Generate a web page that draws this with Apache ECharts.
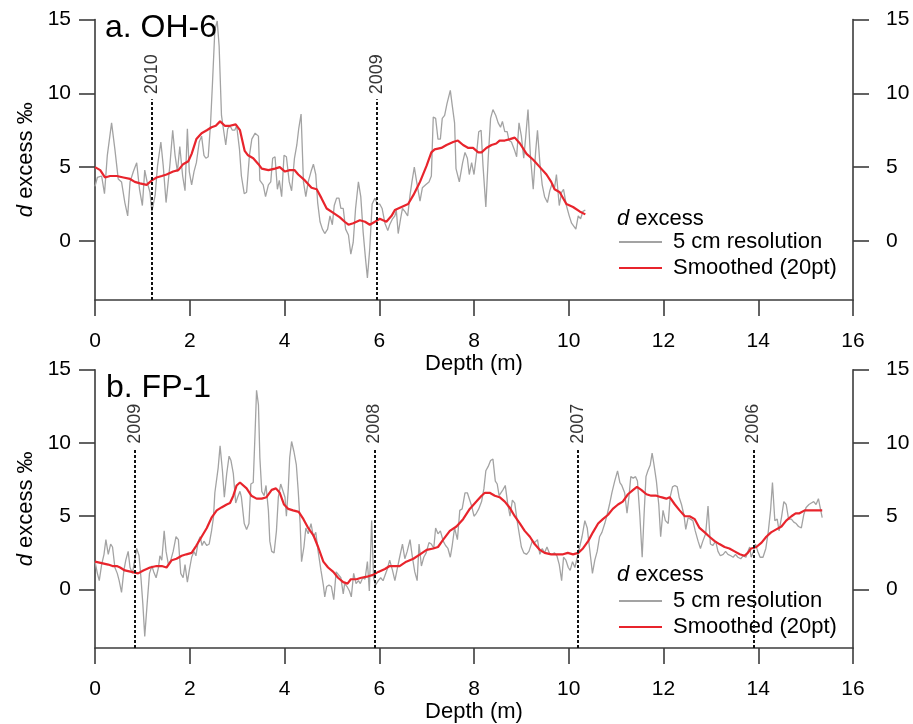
<!DOCTYPE html>
<html>
<head>
<meta charset="utf-8">
<script src="https://cdn.jsdelivr.net/npm/echarts@6/dist/echarts.min.js"></script>
<style>
  html, body { margin: 0; padding: 0; background: #fff; }
  #chart { width: 913px; height: 724px; }
</style>
</head>
<body>
<div id="chart"></div>
<script>
// d excess vs depth, [depth (m), d excess (‰)]
// Core OH-6: 5 cm resolution samples
const rawA = [
  [0.00,3.7],[0.05,4.3],[0.14,4.4],[0.20,3.2],[0.26,5.8],[0.35,8.0],[0.42,6.2],[0.49,4.2],[0.56,4.0],[0.63,2.6],
  [0.69,1.7],[0.74,4.0],[0.81,4.7],[0.88,5.3],[0.94,3.5],[1.00,2.4],[1.05,4.8],[1.10,4.0],[1.16,3.3],[1.20,2.0],
  [1.27,3.1],[1.32,5.1],[1.39,6.7],[1.44,5.1],[1.50,2.6],[1.53,2.6],[1.58,5.1],[1.64,7.5],[1.69,5.8],[1.74,4.7],
  [1.79,6.4],[1.85,4.4],[1.90,3.4],[1.95,7.6],[1.99,4.7],[2.04,3.8],[2.09,4.7],[2.14,5.3],[2.20,6.7],[2.25,7.1],
  [2.30,5.8],[2.34,5.6],[2.39,5.7],[2.44,8.0],[2.48,10.7],[2.53,14.3],[2.58,14.9],[2.62,13.2],[2.67,8.5],[2.71,7.6],
  [2.76,6.5],[2.80,7.6],[2.85,7.8],[2.90,7.5],[2.95,7.5],[2.99,7.8],[3.05,6.2],[3.09,4.4],[3.15,3.2],[3.20,3.3],
  [3.26,5.8],[3.31,6.9],[3.38,7.3],[3.45,7.1],[3.48,4.1],[3.55,3.8],[3.60,3.0],[3.66,3.8],[3.71,4.0],[3.75,5.6],
  [3.80,5.7],[3.85,3.5],[3.89,4.1],[3.94,3.0],[3.99,5.8],[4.04,5.7],[4.10,4.0],[4.15,3.4],[4.21,5.6],[4.26,6.5],
  [4.30,7.6],[4.35,8.6],[4.40,4.0],[4.45,3.0],[4.50,4.0],[4.56,4.7],[4.61,5.2],[4.66,4.5],[4.70,2.6],[4.75,1.3],
  [4.80,0.8],[4.85,0.5],[4.91,0.8],[4.96,1.7],[5.01,1.1],[5.05,2.4],[5.10,2.9],[5.15,2.9],[5.19,2.2],[5.24,2.2],
  [5.29,0.8],[5.35,0.4],[5.40,-0.9],[5.45,-0.1],[5.50,2.2],[5.56,4.0],[5.61,3.0],[5.66,0.6],[5.71,-1.2],[5.75,-2.5],
  [5.80,-0.5],[5.85,2.5],[5.91,2.9],[5.96,2.5],[6.01,2.5],[6.06,2.2],[6.12,1.2],[6.18,0.7],[6.22,1.1],[6.28,1.5],
  [6.33,1.7],[6.36,2.1],[6.40,0.5],[6.45,1.5],[6.49,2.2],[6.54,2.0],[6.60,1.7],[6.65,3.1],[6.69,4.0],[6.74,5.0],
  [6.79,4.0],[6.86,2.7],[6.91,3.6],[6.98,3.8],[7.05,4.0],[7.10,4.4],[7.14,8.4],[7.19,8.3],[7.24,6.9],[7.29,6.9],
  [7.33,8.3],[7.38,8.5],[7.43,9.3],[7.50,10.2],[7.54,9.2],[7.59,8.0],[7.62,4.9],[7.69,4.0],[7.76,5.3],[7.81,6.0],
  [7.86,5.6],[7.90,4.5],[7.95,5.3],[8.00,4.5],[8.05,5.8],[8.10,7.4],[8.15,7.5],[8.19,5.1],[8.25,2.3],[8.30,5.6],
  [8.35,8.3],[8.40,8.9],[8.46,8.5],[8.51,8.0],[8.56,7.7],[8.60,8.1],[8.65,7.4],[8.70,7.4],[8.74,6.8],[8.79,6.7],
  [8.85,6.2],[8.90,5.7],[8.95,8.0],[9.00,7.1],[9.05,5.6],[9.09,7.0],[9.14,8.9],[9.19,5.8],[9.25,3.5],[9.30,6.0],
  [9.34,7.5],[9.39,5.3],[9.44,3.8],[9.49,3.0],[9.55,2.6],[9.60,3.4],[9.65,3.9],[9.70,3.6],[9.74,4.5],[9.80,2.4],
  [9.85,3.3],[9.89,3.5],[9.95,2.4],[10.01,1.7],[10.06,1.2],[10.10,1.3],[10.15,0.8],[10.20,1.7],[10.25,1.5],[10.30,2.0],
  [10.35,2.1]
];
// Core OH-6: 20-point running mean
const smoothA = [
  [0.00,5.0],[0.11,4.8],[0.21,4.3],[0.32,4.4],[0.46,4.4],[0.60,4.3],[0.74,4.2],[0.84,4.0],[0.95,3.9],[1.09,3.8],
  [1.20,4.1],[1.30,4.3],[1.41,4.4],[1.51,4.5],[1.65,4.7],[1.76,4.8],[1.86,5.2],[1.97,5.4],[2.04,5.9],[2.14,6.9],
  [2.25,7.3],[2.36,7.5],[2.46,7.7],[2.55,7.8],[2.64,8.1],[2.74,7.8],[2.85,7.8],[2.97,7.9],[3.06,7.5],[3.16,6.1],
  [3.23,5.8],[3.34,5.6],[3.45,5.2],[3.52,4.9],[3.66,4.8],[3.80,4.9],[3.90,5.0],[4.01,4.7],[4.11,4.8],[4.21,4.8],
  [4.29,4.5],[4.43,4.1],[4.57,3.6],[4.68,3.5],[4.78,2.9],[4.89,2.2],[5.03,1.9],[5.17,1.6],[5.27,1.3],[5.35,1.1],
  [5.45,1.2],[5.59,1.4],[5.70,1.3],[5.80,1.1],[5.91,1.3],[6.01,1.5],[6.15,1.3],[6.26,1.7],[6.33,2.1],[6.47,2.3],
  [6.61,2.5],[6.72,3.1],[6.83,3.8],[6.86,4.0],[7.00,5.1],[7.10,6.0],[7.17,6.2],[7.31,6.3],[7.42,6.5],[7.56,6.7],
  [7.66,6.8],[7.77,6.5],[7.88,6.3],[7.98,6.3],[8.09,6.0],[8.16,6.0],[8.26,6.3],[8.37,6.5],[8.47,6.6],[8.54,6.8],
  [8.65,6.8],[8.76,6.9],[8.86,7.0],[8.97,6.6],[9.11,5.9],[9.25,5.5],[9.39,5.0],[9.53,4.5],[9.63,4.0],[9.70,3.5],
  [9.81,3.3],[9.95,2.5],[10.09,2.3],[10.23,2.0],[10.35,1.8]
];
// Core FP-1: 5 cm resolution samples
const rawB = [
  [0.00,1.9],[0.05,1.1],[0.09,0.6],[0.14,1.7],[0.19,2.4],[0.23,3.4],[0.28,2.4],[0.33,3.1],[0.37,2.9],[0.42,1.5],
  [0.47,1.1],[0.51,0.6],[0.56,-0.2],[0.61,1.3],[0.65,2.0],[0.70,2.6],[0.74,1.5],[0.79,1.1],[0.83,1.2],[0.88,2.8],
  [0.93,2.3],[0.97,0.8],[1.01,-1.0],[1.05,-3.2],[1.10,-1.0],[1.15,1.1],[1.20,1.6],[1.24,1.2],[1.29,0.8],[1.34,1.5],
  [1.37,2.3],[1.41,2.0],[1.46,4.0],[1.50,2.6],[1.55,1.7],[1.60,2.0],[1.65,2.6],[1.71,3.6],[1.76,3.4],[1.81,1.1],
  [1.86,0.8],[1.90,1.7],[1.95,0.5],[1.99,1.3],[2.04,2.2],[2.09,2.6],[2.13,2.3],[2.18,3.3],[2.22,3.6],[2.26,3.0],
  [2.30,3.3],[2.36,3.0],[2.41,3.1],[2.46,4.0],[2.50,4.9],[2.53,6.6],[2.57,6.6],[2.60,8.3],[2.64,9.8],[2.69,8.1],
  [2.73,6.3],[2.78,7.9],[2.83,9.1],[2.87,8.8],[2.92,7.9],[2.97,5.9],[3.01,6.3],[3.06,6.7],[3.09,6.3],[3.15,4.5],
  [3.20,4.1],[3.25,4.5],[3.29,7.2],[3.34,7.3],[3.38,10.8],[3.41,13.6],[3.45,12.6],[3.48,9.0],[3.52,6.7],[3.57,6.4],
  [3.61,7.1],[3.66,5.4],[3.69,3.3],[3.73,2.6],[3.78,2.5],[3.83,4.0],[3.87,6.3],[3.92,7.2],[3.96,7.1],[4.01,6.3],
  [4.04,5.0],[4.08,6.9],[4.11,9.0],[4.15,10.1],[4.20,9.4],[4.25,8.5],[4.29,6.7],[4.33,4.5],[4.36,1.9],[4.41,2.9],
  [4.45,4.2],[4.50,3.8],[4.56,4.5],[4.61,3.6],[4.66,3.9],[4.71,2.6],[4.77,1.3],[4.82,0.3],[4.85,-0.5],[4.89,0.2],
  [4.94,0.3],[4.99,0.2],[5.04,-0.7],[5.09,1.2],[5.13,1.3],[5.19,0.8],[5.24,-0.3],[5.27,0.4],[5.32,0.2],[5.37,-0.1],
  [5.41,-0.5],[5.46,1.1],[5.51,0.4],[5.56,0.6],[5.60,0.4],[5.65,0.8],[5.70,0.7],[5.75,1.9],[5.79,-0.1],[5.84,4.7],
  [5.88,0.8],[5.92,0.3],[5.98,0.6],[6.03,0.8],[6.08,0.6],[6.12,0.6],[6.17,1.4],[6.22,2.0],[6.28,1.3],[6.33,0.6],
  [6.38,1.4],[6.43,2.2],[6.49,3.1],[6.54,2.1],[6.59,2.6],[6.65,3.4],[6.70,2.2],[6.75,1.2],[6.80,0.6],[6.84,3.1],
  [6.89,1.6],[6.94,2.2],[6.99,2.5],[7.05,3.2],[7.10,3.1],[7.15,2.8],[7.19,4.2],[7.24,3.8],[7.29,4.0],[7.35,3.3],
  [7.40,3.0],[7.45,2.8],[7.50,2.2],[7.54,3.0],[7.59,4.2],[7.65,3.4],[7.70,5.4],[7.75,5.5],[7.81,6.6],[7.86,6.6],
  [7.90,6.5],[7.95,5.7],[8.00,5.0],[8.05,5.2],[8.10,5.5],[8.16,6.0],[8.21,6.9],[8.25,8.1],[8.30,8.4],[8.35,8.8],
  [8.40,8.9],[8.45,7.4],[8.49,7.2],[8.53,6.4],[8.57,6.3],[8.61,6.8],[8.66,7.1],[8.71,5.9],[8.76,5.0],[8.81,6.1],
  [8.86,5.9],[8.91,4.7],[8.95,3.9],[9.00,2.9],[9.05,2.5],[9.11,2.4],[9.16,2.6],[9.23,3.3],[9.28,3.2],[9.34,3.4],
  [9.39,2.4],[9.44,2.8],[9.49,2.5],[9.54,2.9],[9.60,2.4],[9.65,2.4],[9.70,2.5],[9.75,2.3],[9.80,1.7],[9.85,0.6],
  [9.89,2.2],[9.94,2.0],[9.99,1.5],[10.03,1.3],[10.08,1.9],[10.13,1.5],[10.18,2.2],[10.23,2.9],[10.28,3.6],[10.34,4.7],
  [10.39,4.2],[10.44,2.8],[10.50,1.1],[10.55,2.0],[10.60,2.6],[10.65,3.6],[10.70,3.9],[10.76,4.5],[10.81,5.1],[10.86,5.8],
  [10.91,6.6],[10.97,7.4],[11.03,8.1],[11.08,7.3],[11.12,7.1],[11.18,6.6],[11.23,5.2],[11.27,6.3],[11.31,7.7],[11.36,7.6],
  [11.41,7.7],[11.45,7.4],[11.50,5.1],[11.55,2.2],[11.59,5.1],[11.63,7.7],[11.67,8.1],[11.72,8.5],[11.76,9.3],[11.80,8.5],
  [11.85,7.4],[11.90,5.8],[11.94,3.6],[11.99,5.4],[12.04,4.7],[12.10,4.5],[12.14,6.3],[12.19,7.0],[12.24,7.1],[12.29,7.0],
  [12.33,6.3],[12.38,5.8],[12.43,5.1],[12.47,4.1],[12.52,4.9],[12.57,4.8],[12.62,4.7],[12.67,4.0],[12.73,3.3],[12.78,2.8],
  [12.83,3.3],[12.89,3.8],[12.94,5.7],[12.99,3.1],[13.04,3.0],[13.10,3.3],[13.15,2.6],[13.20,2.3],[13.26,2.4],[13.31,2.6],
  [13.36,2.4],[13.42,2.3],[13.47,2.2],[13.52,2.4],[13.57,2.2],[13.63,2.1],[13.68,2.3],[13.74,2.2],[13.78,2.6],[13.82,2.9],
  [13.85,2.2],[13.90,2.6],[13.94,3.1],[13.99,2.6],[14.04,2.2],[14.10,2.2],[14.16,2.8],[14.21,3.9],[14.26,5.4],[14.30,7.3],
  [14.35,4.7],[14.40,4.8],[14.44,4.0],[14.49,4.9],[14.54,6.0],[14.59,5.8],[14.64,4.8],[14.70,4.8],[14.75,4.6],[14.80,4.5],
  [14.85,4.3],[14.91,4.2],[14.96,5.1],[15.01,5.6],[15.07,5.8],[15.12,5.9],[15.17,6.0],[15.22,5.8],[15.27,6.2],[15.30,5.7],
  [15.35,4.9]
];
// Core FP-1: 20-point running mean
const smoothB = [
  [0.00,1.9],[0.14,1.8],[0.28,1.7],[0.37,1.6],[0.46,1.6],[0.53,1.5],[0.63,1.3],[0.77,1.2],[0.91,1.1],[1.02,1.3],
  [1.16,1.5],[1.30,1.6],[1.41,1.6],[1.51,1.5],[1.62,2.0],[1.72,2.1],[1.83,2.3],[1.93,2.4],[2.04,2.5],[2.14,3.0],
  [2.25,3.6],[2.36,4.2],[2.46,4.9],[2.57,5.4],[2.67,5.6],[2.78,5.8],[2.85,5.9],[2.92,6.4],[2.99,7.1],[3.06,7.3],
  [3.20,6.9],[3.30,6.4],[3.41,6.2],[3.52,6.2],[3.62,6.3],[3.73,6.8],[3.82,6.9],[3.90,6.6],[3.99,5.8],[4.08,5.5],
  [4.18,5.4],[4.30,5.3],[4.40,4.8],[4.50,4.2],[4.61,3.7],[4.71,2.9],[4.82,1.9],[4.92,1.5],[5.03,1.2],[5.13,0.8],
  [5.24,0.5],[5.33,0.4],[5.40,0.7],[5.52,0.7],[5.62,0.8],[5.77,0.9],[5.87,1.0],[5.98,1.2],[6.12,1.4],[6.22,1.6],
  [6.33,1.6],[6.43,1.6],[6.57,1.9],[6.72,2.1],[6.86,2.4],[7.00,2.7],[7.14,2.8],[7.24,2.9],[7.35,3.4],[7.49,4.0],
  [7.63,4.3],[7.77,4.8],[7.91,5.5],[8.05,6.0],[8.16,6.4],[8.23,6.6],[8.33,6.6],[8.44,6.4],[8.54,6.3],[8.65,6.0],
  [8.75,5.6],[8.86,5.0],[8.97,4.5],[9.07,4.0],[9.18,3.6],[9.28,3.1],[9.39,2.7],[9.49,2.5],[9.63,2.4],[9.77,2.4],
  [9.88,2.4],[9.98,2.5],[10.09,2.4],[10.20,2.5],[10.30,2.8],[10.41,3.3],[10.51,3.9],[10.62,4.5],[10.72,4.8],[10.83,5.1],
  [10.93,5.5],[11.04,5.8],[11.14,6.0],[11.25,6.5],[11.36,6.8],[11.44,7.0],[11.53,6.8],[11.64,6.5],[11.74,6.4],[11.85,6.4],
  [11.95,6.3],[12.06,6.2],[12.13,6.3],[12.24,5.8],[12.34,5.4],[12.45,5.0],[12.55,5.0],[12.66,4.8],[12.76,4.2],[12.87,3.9],
  [12.97,3.6],[13.08,3.3],[13.18,3.1],[13.29,2.9],[13.39,2.8],[13.50,2.6],[13.61,2.4],[13.71,2.3],[13.78,2.5],[13.85,2.8],
  [13.96,2.9],[14.07,3.2],[14.17,3.6],[14.27,3.9],[14.38,4.1],[14.49,4.3],[14.59,4.7],[14.70,5.0],[14.79,5.2],[14.87,5.2],
  [14.98,5.4],[15.08,5.4],[15.22,5.4],[15.35,5.4]
];

// Annual layer markers (depth in m)
const yearsA = ['2010', '2009'];
const yearDepthA = [1.2, 5.95];
const yearsB = ['2009', '2008', '2007', '2006'];
const yearDepthB = [0.84, 5.9, 10.2, 13.9];
const markerTop = 9.6;

// Axis ranges and tick labels
const depthRange = [0, 16];
const depthTicks = [0, 2, 4, 6, 8, 10, 12, 14, 16];
const dexRange = [-4, 15];
const dexTicks = [0, 5, 10, 15];

const panelTitles = ['a. OH-6', 'b. FP-1'];
const rawName = '5 cm resolution';
const smoothName = 'Smoothed (20pt)';

const FONT = '"Liberation Sans", Arial, Helvetica, sans-serif';
const AXIS_COLOR = '#3c3c3c';
const GRAY = '#a3a3a3';
const RED = '#e8242c';

const chart = echarts.init(document.getElementById('chart'), null, { renderer: 'canvas' });

const grids = [
  { left: 95, right: 60, top: 19.5, height: 280.5 },
  { left: 95, right: 60, top: 369.7, height: 281.3 }
];

function xAxisFor(gi, nameGap) {
  return {
    type: 'value', gridIndex: gi, min: depthRange[0], max: depthRange[1],
    name: 'Depth (m)', nameLocation: 'middle', nameGap: nameGap,
    nameTextStyle: { fontFamily: FONT, fontSize: 22, color: '#000' },
    axisLine: { show: true, onZero: false, lineStyle: { color: AXIS_COLOR, width: 1.6 } },
    axisTick: { show: true, inside: false, length: 16, customValues: depthTicks, lineStyle: { color: AXIS_COLOR, width: 1.6 } },
    axisLabel: { show: true, margin: 31, customValues: depthTicks, fontFamily: FONT, fontSize: 21, color: '#000' },
    splitLine: { show: false }
  };
}

function yAxisFor(gi, pos) {
  const left = pos === 'left';
  return {
    type: 'value', gridIndex: gi, position: pos, min: dexRange[0], max: dexRange[1],
    name: left ? '{i|d} excess ‰' : '', nameLocation: 'middle', nameGap: 58,
    nameTextStyle: { fontFamily: FONT, fontSize: 22, color: '#000',
      rich: { i: { fontFamily: FONT, fontSize: 22, fontStyle: 'italic', color: '#000' } } },
    axisLine: { show: true, onZero: false, lineStyle: { color: AXIS_COLOR, width: 1.6 } },
    axisTick: { show: true, inside: false, length: 16, customValues: dexTicks, lineStyle: { color: AXIS_COLOR, width: 1.6 } },
    axisLabel: { show: true, margin: left ? 24 : 33, align: left ? 'right' : 'left', customValues: dexTicks,
      fontFamily: FONT, fontSize: 21, color: '#000' },
    splitLine: { show: false }
  };
}

function yearSeries(gi, years, depths) {
  return {
    type: 'scatter', xAxisIndex: gi, yAxisIndex: gi * 2, symbolSize: 0, silent: true, z: 3,
    data: years.map((y, i) => ({ name: y, value: [depths[i], markerTop] })),
    label: {
      show: true, formatter: '{b}', position: 'top', distance: 5, rotate: 90,
      align: 'left', verticalAlign: 'middle',
      fontFamily: FONT, fontSize: 18, color: '#000'
    },
    markLine: {
      silent: true, symbol: ['none', 'none'], label: { show: false },
      lineStyle: { color: '#111', width: 2, type: [3, 2] },
      emphasis: { disabled: true },
      data: depths.map(d => [{ coord: [d, dexRange[0]] }, { coord: [d, markerTop] }])
    }
  };
}

function lineSeries(gi, name, data, color, width, z) {
  return {
    type: 'line', name: name, xAxisIndex: gi, yAxisIndex: gi * 2,
    data: data, showSymbol: false, symbol: 'none', smooth: false, z: z,
    lineStyle: { color: color, width: width }, itemStyle: { color: color },
    emphasis: { disabled: true }
  };
}

// Legend keys drawn as plain strokes of each series' colour
function legendFor(top) {
  return {
    orient: 'vertical', left: 619, top: top, padding: 0, itemGap: 4,
    itemWidth: 43, itemHeight: 2, selectedMode: false,
    data: [
      { name: rawName, icon: 'rect', itemStyle: { color: GRAY } },
      { name: smoothName, icon: 'rect', itemStyle: { color: RED } }
    ],
    textStyle: { fontFamily: FONT, fontSize: 22, color: '#000', padding: [0, 0, 0, 6] }
  };
}

function legendHeader(top) {
  return {
    type: 'text', left: 617, top: top, silent: true,
    style: {
      text: '{i|d} excess', fill: '#000', font: '22px ' + FONT,
      rich: { i: { fontStyle: 'italic', fontSize: 22, fontFamily: FONT, fill: '#000' } }
    }
  };
}

const option = {
  animation: false,
  backgroundColor: '#fff',
  title: [
    { text: panelTitles[0], left: 105, top: 12, padding: 0, textStyle: { fontFamily: FONT, fontSize: 32, fontWeight: 'normal', color: '#000' } },
    { text: panelTitles[1], left: 106, top: 372, padding: 0, textStyle: { fontFamily: FONT, fontSize: 32, fontWeight: 'normal', color: '#000' } }
  ],
  grid: grids,
  xAxis: [xAxisFor(0, 43), xAxisFor(1, 52)],
  yAxis: [yAxisFor(0, 'left'), yAxisFor(0, 'right'), yAxisFor(1, 'left'), yAxisFor(1, 'right')],
  legend: [legendFor(231), legendFor(590)],
  graphic: [legendHeader(208), legendHeader(564)],
  series: [
    yearSeries(0, yearsA, yearDepthA),
    lineSeries(0, rawName, rawA, GRAY, 1.3, 2),
    lineSeries(0, smoothName, smoothA, RED, 2.2, 4),
    yearSeries(1, yearsB, yearDepthB),
    lineSeries(1, rawName, rawB, GRAY, 1.3, 2),
    lineSeries(1, smoothName, smoothB, RED, 2.2, 4)
  ]
};

chart.setOption(option);
</script>
</body>
</html>
